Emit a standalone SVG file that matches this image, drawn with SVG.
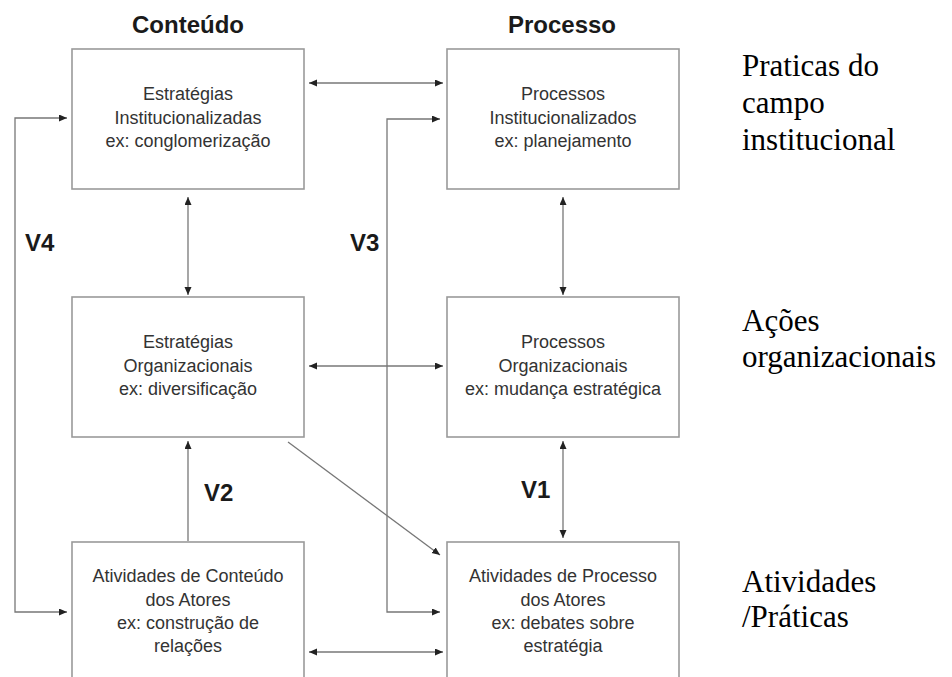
<svg xmlns="http://www.w3.org/2000/svg" width="952" height="677" viewBox="0 0 952 677">
<style>
.box{fill:#fff;stroke:#9a9a9a;stroke-width:1.6}
.bt{font-family:"Liberation Sans",Arial,sans-serif;font-size:18px;fill:#333;text-anchor:middle}
.hd{font-family:"Liberation Sans",Arial,sans-serif;font-size:24px;font-weight:bold;fill:#1a1a1a;text-anchor:middle}
.vl{font-family:"Liberation Sans",Arial,sans-serif;font-size:24px;font-weight:bold;fill:#1a1a1a}
.rl{font-family:"Liberation Serif","Times New Roman",serif;font-size:31px;fill:#000}
.cn{fill:none;stroke:#777;stroke-width:1.3}
.ar{marker-end:url(#ah)}
.dbl{marker-start:url(#ah);marker-end:url(#ah)}
</style>
<defs>
<marker id="ah" markerUnits="userSpaceOnUse" markerWidth="9" markerHeight="8" refX="8" refY="3.5" orient="auto-start-reverse">
<path d="M0,0 L8,3.5 L0,7 z" fill="#222"/>
</marker>
</defs>
<rect width="952" height="677" fill="#fff"/>

<text class="hd" x="188" y="33">Conteúdo</text>
<text class="hd" x="562" y="33">Processo</text>

<g id="connectors">
<path class="cn dbl" d="M309,83 H443"/>
<path class="cn dbl" d="M309,366 H443"/>
<path class="cn dbl" d="M309,652 H443"/>
<path class="cn dbl" d="M188,197 V295"/>
<path class="cn dbl" d="M563,197 V295"/>
<path class="cn ar" d="M188,541 V441"/>
<path class="cn dbl" d="M563,441 V538"/>
<path class="cn dbl" d="M67,118 H15 V612 H67"/>
<path class="cn dbl" d="M440,119 H387 V612 H440"/>
<path class="cn ar" d="M288,442 L440,555"/>
</g>

<g id="n-estrategias-inst">
<rect class="box" x="72" y="49" width="232" height="140"/>
<text class="bt" x="188" y="100">Estratégias</text>
<text class="bt" x="188" y="123.5">Institucionalizadas</text>
<text class="bt" x="188" y="147">ex: conglomerização</text>
</g>
<g id="n-processos-inst">
<rect class="box" x="447" y="49" width="232" height="140"/>
<text class="bt" x="563" y="100">Processos</text>
<text class="bt" x="563" y="123.5">Institucionalizados</text>
<text class="bt" x="563" y="147">ex: planejamento</text>
</g>
<g id="n-estrategias-org">
<rect class="box" x="72" y="297" width="232" height="140"/>
<text class="bt" x="188" y="348">Estratégias</text>
<text class="bt" x="188" y="372">Organizacionais</text>
<text class="bt" x="188" y="395">ex: diversificação</text>
</g>
<g id="n-processos-org">
<rect class="box" x="447" y="297" width="232" height="140"/>
<text class="bt" x="563" y="348">Processos</text>
<text class="bt" x="563" y="372">Organizacionais</text>
<text class="bt" x="563" y="395">ex: mudança estratégica</text>
</g>
<g id="n-atividades-conteudo">
<rect class="box" x="72" y="542" width="232" height="145"/>
<text class="bt" x="188" y="582">Atividades de Conteúdo</text>
<text class="bt" x="188" y="606">dos Atores</text>
<text class="bt" x="188" y="629">ex: construção de</text>
<text class="bt" x="188" y="652">relações</text>
</g>
<g id="n-atividades-processo">
<rect class="box" x="447" y="542" width="232" height="145"/>
<text class="bt" x="563" y="582">Atividades de Processo</text>
<text class="bt" x="563" y="606">dos Atores</text>
<text class="bt" x="563" y="629">ex: debates sobre</text>
<text class="bt" x="563" y="652">estratégia</text>
</g>

<g id="labels">
<text class="vl" x="25" y="251">V4</text>
<text class="vl" x="350" y="251">V3</text>
<text class="vl" x="204" y="501">V2</text>
<text class="vl" x="521" y="498">V1</text>
</g>

<g id="levels">
<text class="rl" x="742" y="76">Praticas do</text>
<text class="rl" x="742" y="113">campo</text>
<text class="rl" x="742" y="150">institucional</text>
<text class="rl" x="742" y="331">Ações</text>
<text class="rl" x="742" y="367">organizacionais</text>
<text class="rl" x="742" y="592">Atividades</text>
<text class="rl" x="742" y="627">/Práticas</text>
</g>
</svg>
